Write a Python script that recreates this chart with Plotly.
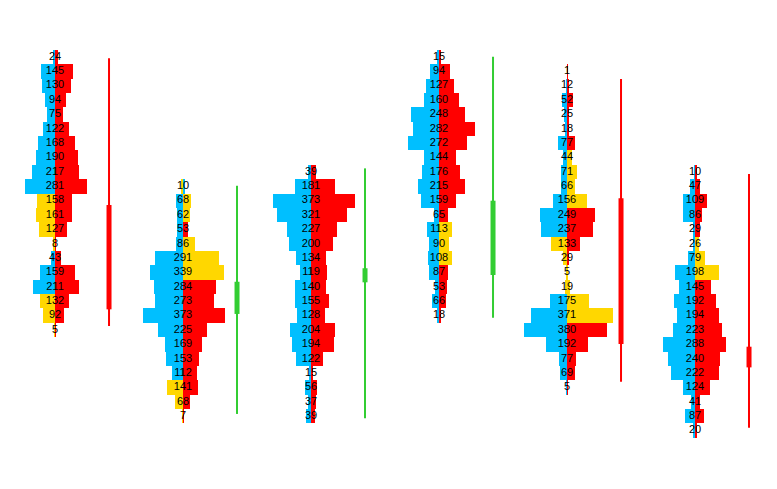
import plotly.graph_objects as go

# ---------------- data ----------------
sessions = ["S1", "S2", "S3", "S4", "S5", "S6"]
# price of the top row of each session profile (tick = 1)
top_price = [100, 91, 92, 100, 99, 92]

vol_total = [
    [24, 145, 130, 94, 75, 122, 168, 190, 217, 281, 158, 161, 127, 8, 43, 159, 211, 132, 92, 5],
    [10, 68, 62, 53, 86, 291, 339, 284, 273, 373, 225, 169, 153, 112, 141, 68, 7],
    [39, 181, 373, 321, 227, 200, 134, 119, 140, 155, 128, 204, 194, 122, 15, 56, 37, 39],
    [15, 94, 127, 160, 248, 282, 272, 144, 176, 215, 159, 65, 113, 90, 108, 87, 53, 66, 18],
    [1, 12, 52, 25, 18, 77, 44, 71, 66, 156, 249, 237, 133, 29, 5, 19, 175, 371, 380, 192, 77, 69, 5],
    [10, 47, 109, 86, 29, 26, 79, 198, 145, 192, 194, 223, 288, 240, 222, 124, 41, 87, 20],
]
vol_left = [
    [10, 65, 58, 44, 37, 56, 77, 86, 106, 137, 80, 85, 73, 5, 17, 68, 101, 68, 53, 3],
    [5, 33, 28, 28, 33, 128, 153, 134, 130, 182, 116, 84, 78, 48, 74, 38, 3],
    [14, 72, 174, 157, 108, 100, 67, 48, 72, 73, 64, 96, 88, 69, 8, 28, 16, 21],
    [7, 43, 59, 68, 127, 117, 143, 67, 79, 96, 82, 24, 54, 44, 50, 44, 18, 33, 9],
    [0, 2, 24, 15, 8, 40, 20, 27, 29, 64, 122, 118, 73, 18, 3, 5, 76, 163, 195, 96, 36, 32, 3],
    [4, 23, 54, 56, 8, 10, 34, 90, 72, 96, 83, 100, 147, 125, 111, 57, 20, 46, 10],
]
# colour codes: B = blue, R = red, Y = yellow
side_left = [
    "BBBBBBBBBBYYYYBBBYYY",
    "YBBBBBBBBBBBBBYYY",
    "BBBBBBBBBBBBBBBBBB",
    "BBBBBBBBBBBBBBBBBBB",
    "BBBBBBBBBBBBYYYYBBBBBBB",
    "BBBBBBBBBBBBBBBBBBB",
]
side_right = [
    "RRRRRRRRRRRRRRRRRRRR",
    "BYYRYYYRRRRRRRRRR",
    "RRRRRRRRRRRRRRRRRR",
    "RRRRRRRRRRRRYYYRRRR",
    "RRRRRRYYYYRRRRYYYYRRRRR",
    "RRRRRYYYRRRRRRRRRRR",
]
# OHLC per session (same price units)
c_open = [89.7, 82.12, 84.32, 84.83, 90.17, 79.84]
c_high = [99.91, 91.04, 92.25, 100.02, 98.47, 91.86]
c_low = [81.28, 75.16, 74.86, 81.86, 77.4, 74.2]
c_close = [82.44, 84.36, 85.3, 90.0, 80.03, 78.4]

# ---------------- style ----------------
COL = {"B": "#00BFFF", "R": "#FF0000", "Y": "#FFD700"}
UP, DOWN = "#32CD32", "#FF0000"
VOL_SCALE = 0.00171      # session units per unit of volume
CANDLE_OFFSET = 0.422

fig = go.Figure()

ys, lx, lbase, lcol, rx, rcol, tx, tt = [], [], [], [], [], [], [], []
for i in range(len(sessions)):
    for k, tot in enumerate(vol_total[i]):
        p = top_price[i] - k
        left = vol_left[i][k]
        right = tot - left
        ys.append(p)
        lx.append(-left * VOL_SCALE)
        lcol.append(COL[side_left[i][k]])
        rx.append(right * VOL_SCALE)
        rcol.append(COL[side_right[i][k]])
        lbase.append(i)
        tx.append(i)
        tt.append(str(tot))

fig.add_trace(go.Bar(orientation="h", y=ys, x=lx, base=lbase, width=1,
                     marker=dict(color=lcol, line=dict(width=0)), hoverinfo="skip"))
fig.add_trace(go.Bar(orientation="h", y=ys, x=rx, base=lbase, width=1,
                     marker=dict(color=rcol, line=dict(width=0)), hoverinfo="skip"))

for i in range(len(sessions)):
    cx = i + CANDLE_OFFSET
    col = UP if c_close[i] >= c_open[i] else DOWN
    fig.add_trace(go.Scatter(x=[cx, cx], y=[c_low[i], c_high[i]], mode="lines",
                             line=dict(color=col, width=2), hoverinfo="skip"))
    fig.add_trace(go.Scatter(x=[cx, cx], y=[c_open[i], c_close[i]], mode="lines",
                             line=dict(color=col, width=5), hoverinfo="skip"))

fig.add_trace(go.Scatter(x=tx, y=ys, mode="text", text=tt, textposition="middle center",
                         textfont=dict(family="Liberation Sans, Arial", size=11, color="black"),
                         hoverinfo="skip"))

W, H = 777, 489
px_per_unit_y = 14.37
ymax = 100 + 49 / px_per_unit_y
ymin = ymax - H / px_per_unit_y
x0 = -47 / 128
x1 = x0 + W / 128

fig.update_layout(
    width=W, height=H, margin=dict(l=0, r=0, t=0, b=0),
    paper_bgcolor="white", plot_bgcolor="white",
    barmode="overlay", bargap=0, showlegend=False,
    xaxis=dict(range=[x0, x1], visible=False, showgrid=False, zeroline=False),
    yaxis=dict(range=[ymin, ymax], visible=False, showgrid=False, zeroline=False),
)
fig.write_html("out.html")
